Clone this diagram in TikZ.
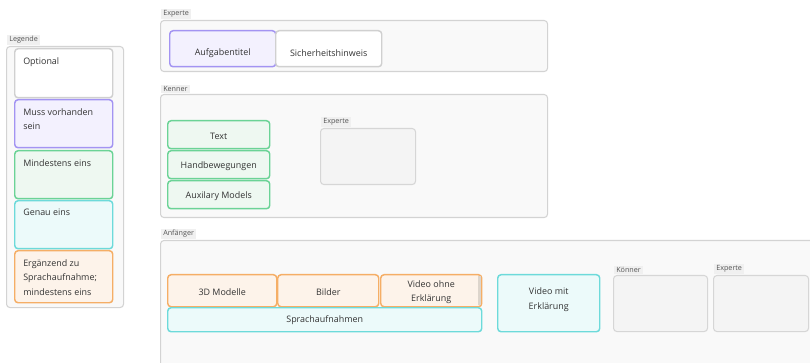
\documentclass[tikz,border=0pt]{standalone}
\usepackage{fontspec}
\setmainfont{Open Sans}
\begin{document}
\begin{tikzpicture}[x=0.75pt,y=-0.75pt,
  sz/.style 2 args={minimum width=#1*0.75pt,minimum height=#2*0.75pt},
  group/.style={draw=groupline,fill=groupfill,line width=0.8pt,rounded corners=2.5pt,anchor=north west,inner sep=0pt},
  subgroup/.style={draw=subline,fill=subfill,line width=0.8pt,rounded corners=2.5pt,anchor=north west,inner sep=0pt},
  glabel/.style={fill=labelbg,font=\fontsize{5.4}{6.5}\selectfont,text=labeltext,inner xsep=1.5pt,inner ysep=1pt,anchor=south west},
  item/.style={line width=1.1pt,rounded corners=2.5pt,anchor=north west,inner sep=0pt},
  optional/.style={item,draw=optline,fill=white},
  must/.style={item,draw=mustline,fill=mustfill},
  atleast/.style={item,draw=leastline,fill=leastfill},
  exactly/.style={item,draw=exactline,fill=exactfill},
  extra/.style={item,draw=extraline,fill=extrafill},
  itext/.style={font=\fontsize{6.7}{11}\selectfont,text=itemtext,align=center,inner sep=0pt},
  ltext/.style={font=\fontsize{6.7}{11.2}\selectfont,text=itemtext,align=left,inner sep=0pt,anchor=north west}]
\definecolor{groupline}{HTML}{D3D3D3}
\definecolor{groupfill}{HTML}{F9F9F9}
\definecolor{subline}{HTML}{D6D6D6}
\definecolor{subfill}{HTML}{F4F4F4}
\definecolor{labelbg}{HTML}{F0F0F0}
\definecolor{labeltext}{HTML}{555555}
\definecolor{itemtext}{HTML}{333333}
\definecolor{optline}{HTML}{D0D0D0}
\definecolor{mustline}{HTML}{A394F2}
\definecolor{mustfill}{HTML}{F3F1FE}
\definecolor{leastline}{HTML}{6BD396}
\definecolor{leastfill}{HTML}{EEF8F1}
\definecolor{exactline}{HTML}{6DDADA}
\definecolor{exactfill}{HTML}{ECFAFA}
\definecolor{extraline}{HTML}{F5AE66}
\definecolor{extrafill}{HTML}{FDF3EA}
\definecolor{scrollbar}{HTML}{DDD5CC}

\useasboundingbox (0,0) rectangle (810,363);
\clip (0,0) rectangle (810,363);

% legend
\node[group,sz={117}{261}] (legend) at (6,46) {};
\node[glabel] at ([shift={(1,-1)}]legend.north west) {Legende};
\node[optional,sz={98}{49}] (lopt) at (14,48) {};
\node[must,sz={98}{48}] (lmust) at (14,99) {};
\node[atleast,sz={98}{48}] (lleast) at (14,150) {};
\node[exactly,sz={98}{48}] (lexact) at (14,200) {};
\node[extra,sz={98}{52}] (lextra) at (14,250) {};
\node[ltext] at ([shift={(9,9)}]lopt.north west) {Optional};
\node[ltext] at ([shift={(9,9)}]lmust.north west) {Muss vorhanden\\sein};
\node[ltext] at ([shift={(9,9)}]lleast.north west) {Mindestens eins};
\node[ltext] at ([shift={(9,9)}]lexact.north west) {Genau eins};
\node[ltext] at ([shift={(9,9)}]lextra.north west) {Ergänzend zu\\Sprachaufnahme;\\mindestens eins};

% Experte
\node[group,sz={387}{51}] (experte) at (160,20) {};
\node[glabel] at ([shift={(1,-1)}]experte.north west) {Experte};
\node[must,sz={106}{36}] (titel) at (169,30) {};
\node[itext] at ([yshift=-3]titel.center) {Aufgabentitel};
\node[optional,sz={106}{36}] (hinweis) at (275,30) {};
\node[itext] at ([yshift=-3]hinweis.center) {Sicherheitshinweis};

% Kenner
\node[group,sz={387}{123}] (kenner) at (160,94) {};
\node[glabel] at ([shift={(1,-1)}]kenner.north west) {Kenner};
\node[atleast,sz={102}{28}] (text) at (167,120) {};
\node[itext] at ([yshift=-1]text.center) {Text};
\node[atleast,sz={102}{28}] (hand) at (167,150) {};
\node[itext] at ([yshift=-1]hand.center) {Handbewegungen};
\node[atleast,sz={102}{28}] (aux) at (167,180) {};
\node[itext] at ([yshift=-1]aux.center) {Auxilary Models};
\node[subgroup,sz={95}{56}] (kexp) at (320,128) {};
\node[glabel] at ([shift={(1,-1)}]kexp.north west) {Experte};

% Anfaenger
\node[group,sz={660}{135}] (anf) at (160,240) {};
\node[glabel] at ([shift={(1,-1)}]anf.north west) {Anfänger};
\node[extra,sz={109}{32}] (modelle) at (167,274) {};
\node[itext] at ([yshift=-1]modelle.center) {3D Modelle};
\node[extra,sz={101}{32}] (bilder) at (277,274) {};
\node[itext] at ([yshift=-1]bilder.center) {Bilder};
\node[extra,sz={101}{32}] (vohne) at (380,274) {};
\fill[scrollbar] ([shift={(-4.5,2)}]vohne.north east) rectangle ([shift={(-1.5,-2)}]vohne.south east);
\node[itext] at ([yshift=-1]vohne.center) {Video ohne\\Erklärung};
\node[exactly,sz={314}{24}] (sprache) at (167,307) {};
\node[itext] at (sprache.center) {Sprachaufnahmen};
\node[exactly,sz={102}{57}] (vmit) at (497,274) {};
\node[itext,anchor=north] at ([yshift=-10]vmit.north) {Video mit\\Erklärung};
\node[subgroup,sz={94}{56}] (akoen) at (613,275) {};
\node[glabel] at ([shift={(1,-1)}]akoen.north west) {Könner};
\node[subgroup,sz={95}{56}] (aexp) at (713,275) {};
\node[glabel] at ([shift={(1,-1)}]aexp.north west) {Experte};
\end{tikzpicture}
\end{document}
